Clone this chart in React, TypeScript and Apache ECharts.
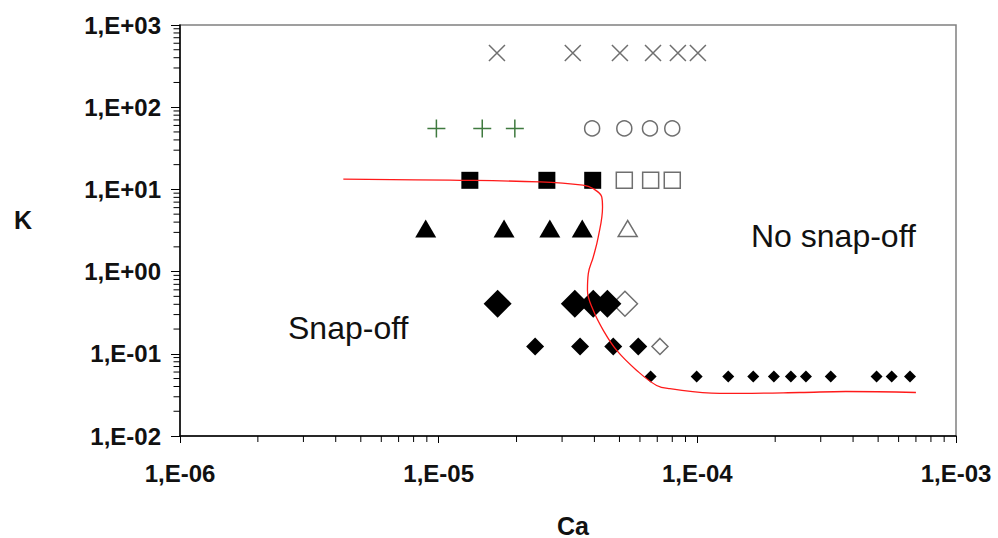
import React, { useEffect, useRef } from "react";
import * as echarts from "echarts";

// ---- data ----
const crossCa = [1.68e-5, 3.3e-5, 5.02e-5, 6.74e-5, 8.41e-5, 1.005e-4];
const crossK = 456;
const plusCa = [9.8e-6, 1.474e-5, 1.97e-5];
const plusK = 55.2;
const circleOpenCa = [3.92e-5, 5.22e-5, 6.56e-5, 8.0e-5];
const circleK = 55.2;
const squareFilledCa = [1.32e-5, 2.62e-5, 3.94e-5];
const squareOpenCa = [5.22e-5, 6.6e-5, 8.0e-5];
const squareK = 12.9;
const triFilledCa = [8.91e-6, 1.79e-5, 2.69e-5, 3.59e-5];
const triOpenCa = [5.38e-5];
const triK = 3.34;
const bigDiaFilledCa = [1.69e-5, 3.36e-5, 3.96e-5, 4.49e-5];
const bigDiaOpenCa = [5.25e-5];
const bigDiaK = 0.407;
const midDiaFilledCa = [2.36e-5, 3.52e-5, 4.73e-5, 5.91e-5];
const midDiaOpenCa = [7.17e-5];
const midDiaK = 0.123;
const smallDiaCa = [6.6e-5, 9.94e-5, 1.317e-4, 1.645e-4, 1.977e-4, 2.3e-4, 2.63e-4, 3.28e-4, 4.93e-4, 5.64e-4, 6.64e-4];
const smallDiaK = 0.053;

const curveCa = [4.28e-6, 1.106e-5, 2.46e-5, 3.61e-5, 3.95e-5, 4.27e-5, 4.3e-5, 4.14e-5, 3.96e-5, 3.79e-5, 3.76e-5, 3.96e-5, 4.33e-5, 4.88e-5, 5.83e-5, 6.96e-5, 7.83e-5, 1.22e-4, 2.49e-4, 3.75e-4, 7.0e-4];
const curveK = [13.3, 12.95, 12.34, 11.25, 10.25, 8.11, 6.12, 2.64, 1.507, 0.953, 0.592, 0.338, 0.193, 0.11, 0.0628, 0.0412, 0.0376, 0.033, 0.0338, 0.0348, 0.0338];

const xMin = 1e-6;
const xMax = 1e-3;
const yMin = 1e-2;
const yMax = 1e3;
const minorMultipliers = [2, 3, 4, 5, 6, 7, 8, 9];
const xDecades = [-6, -5, -4];
const yDecades = [-2, -1, 0, 1, 2];

const fmt = (v: number) => {
  const e = Math.round(Math.log10(v));
  const s = e < 0 ? "-" : "+";
  return "1,E" + s + String(Math.abs(e)).padStart(2, "0");
};

const FONT = "Liberation Sans, Arial, sans-serif";

export default function App() {
  const ref = useRef<HTMLDivElement>(null);
  useEffect(() => {
    if (!ref.current) return;
    const chart = echarts.init(ref.current, undefined, { renderer: "svg" });

    const xMinor: number[][] = [];
    xDecades.forEach((d) => minorMultipliers.forEach((m) => xMinor.push([m * Math.pow(10, d), yMin])));
    const yMinor: number[][] = [];
    yDecades.forEach((d) => minorMultipliers.forEach((m) => yMinor.push([xMin, m * Math.pow(10, d)])));

    const row = (xs: number[], k: number) => xs.map((x) => [x, k]);
    const grey = "#6f6f6f";
    const openStyle = { color: "#ffffff", borderColor: grey, borderWidth: 1.5, opacity: 1 };
    const filled = { color: "#000000", opacity: 1 };

    const option: any = {
      animation: false,
      backgroundColor: "#ffffff",
      grid: {
        left: 180,
        right: 42,
        top: 25,
        bottom: 102,
        show: true,
        borderColor: "#808080",
        borderWidth: 1.5,
        containLabel: false,
        outerBoundsMode: "none",
      },
      xAxis: {
        type: "log",
        logBase: 10,
        min: xMin,
        max: xMax,
        name: "Ca",
        nameLocation: "middle",
        nameGap: 77,
        nameTextStyle: {
          fontFamily: FONT,
          fontWeight: "bold",
          fontSize: 25,
          color: "#111",
          padding: [0, 0, 0, 10],
        },
        axisLine: { show: true, lineStyle: { color: "#000", width: 1.5 } },
        axisTick: { show: true, inside: false, length: 7, lineStyle: { color: "#000", width: 1 } },
        splitLine: { show: false },
        axisLabel: {
          formatter: fmt,
          margin: 25,
          fontFamily: FONT,
          fontWeight: "bold",
          fontSize: 24,
          color: "#111",
        },
      },
      yAxis: {
        type: "log",
        logBase: 10,
        min: yMin,
        max: yMax,
        axisLine: { show: true, lineStyle: { color: "#000", width: 1.5 } },
        axisTick: { show: true, inside: false, length: 9, lineStyle: { color: "#000", width: 1 } },
        splitLine: { show: false },
        axisLabel: {
          formatter: fmt,
          margin: 19,
          fontFamily: FONT,
          fontWeight: "bold",
          fontSize: 24,
          color: "#111",
        },
      },
      graphic: [
        {
          type: "text",
          x: 23,
          y: 220,
          style: {
            text: "K",
            fontFamily: FONT,
            fontWeight: "bold",
            fontSize: 25,
            fill: "#111",
            align: "center",
            verticalAlign: "middle",
          },
        },
        {
          type: "text",
          left: 288,
          top: 312,
          style: {
            text: "Snap-off",
            fontFamily: FONT,
            fontSize: 32,
            fill: "#111",
          },
        },
        {
          type: "text",
          left: 751,
          top: 220,
          style: {
            text: "No snap-off",
            fontFamily: FONT,
            fontSize: 32,
            fill: "#111",
          },
        },
      ],
      series: [
        {
          type: "custom",
          name: "xMinorTicks",
          silent: true,
          clip: false,
          data: xMinor,
          renderItem: (params: any, api: any) => {
            const p = api.coord([api.value(0), api.value(1)]);
            return {
              type: "line",
              shape: { x1: p[0], y1: p[1], x2: p[0], y2: p[1] + 6 },
              style: { stroke: "#000", lineWidth: 1 },
            };
          },
        },
        {
          type: "custom",
          name: "yMinorTicks",
          silent: true,
          clip: false,
          data: yMinor,
          renderItem: (params: any, api: any) => {
            const p = api.coord([api.value(0), api.value(1)]);
            return {
              type: "line",
              shape: { x1: p[0] - 6.5, y1: p[1], x2: p[0], y2: p[1] },
              style: { stroke: "#000", lineWidth: 1 },
            };
          },
        },
        {
          type: "scatter",
          name: "cross",
          data: row(crossCa, crossK),
          symbol: "path://M0,0L10,10M10,0L0,10",
          symbolSize: 16,
          itemStyle: { color: "none", borderColor: grey, borderWidth: 1.5, opacity: 1 },
        },
        {
          type: "scatter",
          name: "plus",
          data: row(plusCa, plusK),
          symbol: "path://M5,0L5,10M0,5L10,5",
          symbolSize: 18,
          itemStyle: { color: "none", borderColor: "#3f7a3f", borderWidth: 1.5, opacity: 1 },
        },
        {
          type: "scatter",
          name: "circleOpen",
          data: row(circleOpenCa, circleK),
          symbol: "circle",
          symbolSize: 15,
          itemStyle: openStyle,
        },
        {
          type: "scatter",
          name: "squareOpen",
          data: row(squareOpenCa, squareK),
          symbol: "rect",
          symbolSize: 16,
          itemStyle: openStyle,
        },
        {
          type: "scatter",
          name: "squareFilled",
          data: row(squareFilledCa, squareK),
          symbol: "rect",
          symbolSize: 17,
          itemStyle: filled,
        },
        {
          type: "scatter",
          name: "triOpen",
          data: row(triOpenCa, triK),
          symbol: "triangle",
          symbolSize: [19, 16],
          itemStyle: openStyle,
        },
        {
          type: "scatter",
          name: "triFilled",
          data: row(triFilledCa, triK),
          symbol: "triangle",
          symbolSize: [21, 18],
          itemStyle: filled,
        },
        {
          type: "scatter",
          name: "bigDiaOpen",
          data: row(bigDiaOpenCa, bigDiaK),
          symbol: "diamond",
          symbolSize: 25,
          itemStyle: openStyle,
        },
        {
          type: "scatter",
          name: "bigDiaFilled",
          data: row(bigDiaFilledCa, bigDiaK),
          symbol: "diamond",
          symbolSize: 28,
          itemStyle: filled,
        },
        {
          type: "scatter",
          name: "midDiaOpen",
          data: row(midDiaOpenCa, midDiaK),
          symbol: "diamond",
          symbolSize: 16,
          itemStyle: openStyle,
        },
        {
          type: "scatter",
          name: "midDiaFilled",
          data: row(midDiaFilledCa, midDiaK),
          symbol: "diamond",
          symbolSize: 18,
          itemStyle: filled,
        },
        {
          type: "scatter",
          name: "smallDia",
          data: row(smallDiaCa, smallDiaK),
          symbol: "diamond",
          symbolSize: 12,
          itemStyle: filled,
        },
        {
          type: "line",
          name: "boundary",
          data: curveCa.map((x, i) => [x, curveK[i]]),
          smooth: 0.4,
          showSymbol: false,
          symbol: "none",
          lineStyle: { color: "#ff1a1a", width: 1.3 },
          z: 5,
        },
      ],
    };
    chart.setOption(option);
    return () => chart.dispose();
  }, []);

  return (
    <div
      ref={ref}
      style={{ position: "absolute", left: 0, top: 0, width: 998, height: 538, background: "#fff" }}
    />
  );
}
